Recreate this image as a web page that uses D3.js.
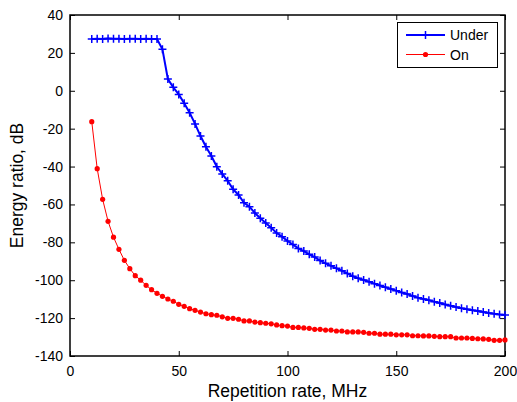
<!DOCTYPE html>
<html><head><meta charset="utf-8">
<script src="https://cdn.jsdelivr.net/npm/d3@7"></script>
<style>body{margin:0;background:#fff}svg{display:block}text{font-family:"Liberation Sans",Arial,sans-serif}</style>
</head><body><div id="chart"></div>
<script>
const freq = [10,12.5,15,17.5,20,22.5,25,27.5,30,32.5,35,37.5,40,42.5,45,47.5,50,52.5,55,57.5,60,62.5,65,67.5,70,72.5,75,77.5,80,82.5,85,87.5,90,92.5,95,97.5,100,102.5,105,107.5,110,112.5,115,117.5,120,122.5,125,127.5,130,132.5,135,137.5,140,142.5,145,147.5,150,152.5,155,157.5,160,162.5,165,167.5,170,172.5,175,177.5,180,182.5,185,187.5,190,192.5,195,197.5,200];
const under = [27.3,27.5,27.3,27.6,27.4,27.5,27.3,27.5,27.4,27.3,27.4,27.3,27.3,21.9,6.2,1.8,-1.9,-6.6,-11.6,-17.5,-23.9,-29.5,-34.4,-40.1,-43.9,-47.5,-52.0,-55.0,-59.1,-61.2,-64.5,-67.3,-69.8,-72.3,-75.1,-77.0,-79.3,-81.2,-83.2,-84.6,-86.3,-87.8,-89.6,-91.1,-92.4,-93.7,-95.0,-96.4,-97.9,-99.0,-99.9,-100.8,-101.8,-102.8,-103.7,-104.6,-105.5,-106.5,-107.3,-108.3,-109.2,-109.9,-110.6,-111.3,-112.0,-112.8,-113.5,-114.2,-114.8,-115.3,-115.8,-116.3,-116.8,-117.3,-117.7,-118.1,-118.4];
const on = [-16.3,-41.1,-57.3,-68.9,-77.3,-83.7,-89.5,-93.9,-97.6,-100.0,-102.7,-105.0,-106.9,-108.5,-109.9,-111.1,-112.7,-113.8,-115.0,-115.9,-116.8,-117.7,-118.2,-118.5,-119.3,-120.1,-120.1,-120.6,-121.5,-121.5,-122.1,-122.4,-122.7,-123.0,-123.6,-124.0,-124.2,-124.9,-124.9,-125.2,-125.4,-125.9,-125.9,-126.3,-126.3,-126.8,-126.8,-127.3,-127.3,-127.3,-127.5,-128.0,-128.0,-128.5,-128.5,-128.5,-128.8,-128.8,-128.8,-129.3,-129.3,-129.4,-129.4,-129.6,-129.8,-129.8,-129.8,-130.5,-130.5,-130.5,-130.7,-130.9,-131.0,-131.2,-131.7,-131.7,-131.5];
const xTicks = [0,50,100,150,200];
const yTicks = [40,20,0,-20,-40,-60,-80,-100,-120,-140];
const seriesNames = ["Under","On"];
const xLabel = "Repetition rate, MHz";
const yLabel = "Energy ratio, dB";

const W = 517, H = 402;
const L = 70, R = 505, T = 15, B = 356;
const svg = d3.select("#chart").append("svg").attr("width", W).attr("height", H);
const x = d3.scaleLinear().domain([0,200]).range([L,R]);
const y = d3.scaleLinear().domain([-140,40]).range([B,T]);
const fmt = d => String(d);

const tick = 5;
const gx = svg.append("g").attr("transform",`translate(0,${B})`)
  .call(d3.axisBottom(x).tickValues(xTicks).tickSize(-tick).tickPadding(7).tickFormat(fmt));
const gxt = svg.append("g").attr("transform",`translate(0,${T})`)
  .call(d3.axisTop(x).tickValues(xTicks).tickSize(-tick).tickFormat(""));
const gy = svg.append("g").attr("transform",`translate(${L},0)`)
  .call(d3.axisLeft(y).tickValues(yTicks).tickSize(-tick).tickPadding(7).tickFormat(fmt));
const gyr = svg.append("g").attr("transform",`translate(${R},0)`)
  .call(d3.axisRight(y).tickValues(yTicks).tickSize(-tick).tickFormat(""));
[gx,gxt,gy,gyr].forEach(g=>{
  g.select(".domain").remove();
  g.selectAll(".tick line").attr("stroke","#000").attr("stroke-width",1);
  g.selectAll("text").attr("font-size",14).attr("fill","#000").attr("font-family","'Liberation Sans',Arial,sans-serif");
});
gx.selectAll("text").attr("dy","0.9em");
svg.append("rect").attr("x",L).attr("y",T).attr("width",R-L).attr("height",B-T)
  .attr("fill","none").attr("stroke","#000").attr("stroke-width",1.5);

const line = d3.line().x((d,i)=>x(freq[i])).y(d=>y(d));
svg.append("path").datum(under).attr("d",line).attr("fill","none").attr("stroke","#0000ff").attr("stroke-width",2);
svg.append("path").datum(on).attr("d",line).attr("fill","none").attr("stroke","#ff0000").attr("stroke-width",1);
const ms = 4;
svg.append("g").selectAll("path").data(under).join("path")
  .attr("d",(d,i)=>`M${x(freq[i])-ms},${y(d)}H${x(freq[i])+ms}M${x(freq[i])},${y(d)-ms}V${y(d)+ms}`)
  .attr("stroke","#0000ff").attr("stroke-width",1.5).attr("fill","none");
svg.append("g").selectAll("circle").data(on).join("circle")
  .attr("cx",(d,i)=>x(freq[i])).attr("cy",d=>y(d)).attr("r",2.6).attr("fill","#ff0000");

svg.append("text").attr("x",(L+R)/2).attr("y",397).attr("text-anchor","middle").attr("font-size",17.5).text(xLabel);
svg.append("text").attr("transform",`translate(23,${(T+B)/2}) rotate(-90)`).attr("text-anchor","middle").attr("font-size",17.5).text(yLabel);

const lg = svg.append("g");
lg.append("rect").attr("x",397.5).attr("y",22.5).attr("width",100).attr("height",45).attr("fill","#fff").attr("stroke","#000").attr("stroke-width",1);
const ly = [35,54.5];
lg.append("line").attr("x1",406).attr("x2",445).attr("y1",ly[0]).attr("y2",ly[0]).attr("stroke","#0000ff").attr("stroke-width",2);
lg.append("path").attr("d",`M${425.5-ms},${ly[0]}H${425.5+ms}M425.5,${ly[0]-ms}V${ly[0]+ms}`).attr("stroke","#0000ff").attr("stroke-width",1.5);
lg.append("line").attr("x1",406).attr("x2",445).attr("y1",ly[1]).attr("y2",ly[1]).attr("stroke","#ff0000").attr("stroke-width",1);
lg.append("circle").attr("cx",425.5).attr("cy",ly[1]).attr("r",2.6).attr("fill","#ff0000");
seriesNames.forEach((n,i)=>{
  lg.append("text").attr("x",450).attr("y",ly[i]+5).attr("font-size",14).text(n);
});
</script></body></html>
